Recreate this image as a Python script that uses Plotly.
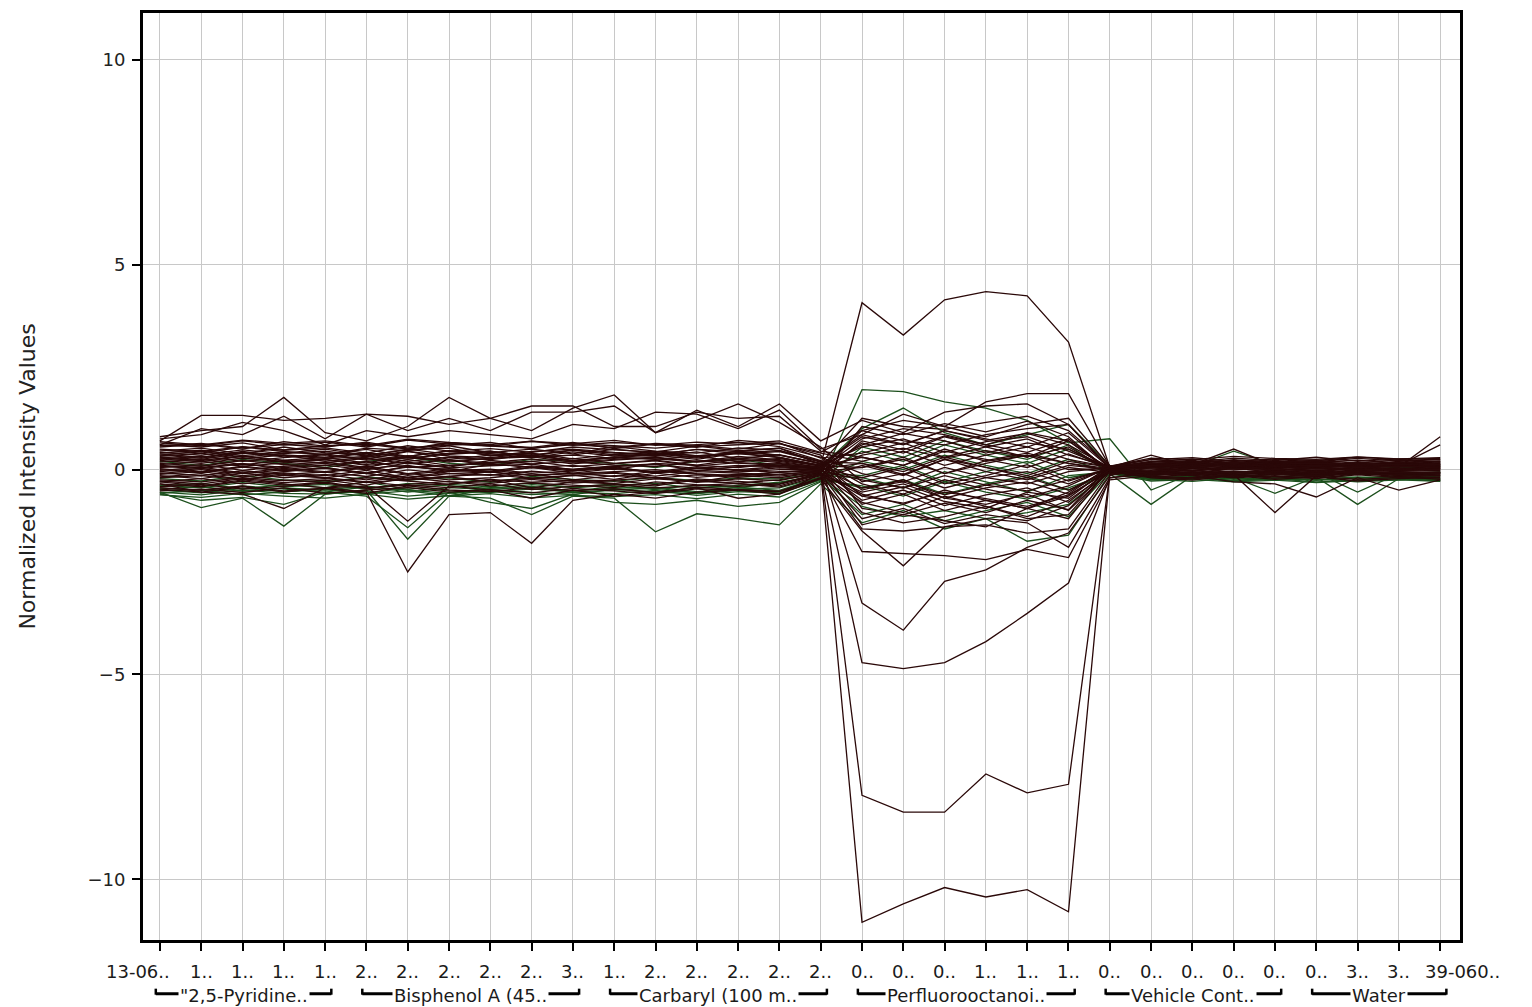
import plotly.graph_objects as go

# ---- categories / tick labels ----
tick_labels = ["13-06..", "1..", "1..", "1..", "1..", "2..", "2..", "2..", "2..", "2..", "3..",
               "1..", "2..", "2..", "2..", "2..", "2..", "0..", "0..", "0..", "1..", "1..", "1..",
               "0..", "0..", "0..", "0..", "0..", "0..", "3..", "3..", "39-060.."]
x_idx = list(range(len(tick_labels)))

group_names = ['"2,5-Pyridine..', 'Bisphenol A (45..', 'Carbaryl (100 m..',
               'Perfluorooctanoi..', 'Vehicle Cont..', 'Water']
group_start = [0, 5, 11, 17, 23, 28]
group_end = [4, 10, 16, 22, 27, 31]

y_ticks = [-10, -5, 0, 5, 10]

# ---- series values (dense band) ----
b01 = [0.45,0.52,0.38,0.55,0.41,0.36,0.48,0.52,0.33,0.44,0.50,0.42,0.37,0.49,0.44,0.52,0.12,0.85,0.62,0.95,0.71,0.88,0.60,0.05,0.12,0.08,0.15,0.10,0.06,0.14,0.09,0.12]
b02 = [-0.35,-0.42,-0.28,-0.38,-0.31,-0.45,-0.36,-0.29,-0.40,-0.33,-0.38,-0.44,-0.30,-0.37,-0.41,-0.35,-0.08,-0.65,-0.82,-0.55,-0.71,-0.90,-0.62,-0.04,-0.10,-0.15,-0.08,-0.12,-0.18,-0.09,-0.14,-0.11]
b03 = [0.22,0.15,0.28,0.19,0.25,0.12,0.30,0.21,0.17,0.26,0.14,0.23,0.29,0.18,0.24,0.20,0.05,-0.45,-0.30,-0.62,-0.38,-0.52,-0.25,0.03,0.06,-0.02,0.05,0.08,0.02,0.04,0.07,0.03]
b04 = [-0.12,-0.05,-0.18,-0.08,-0.15,-0.02,-0.20,-0.10,-0.06,-0.14,-0.09,-0.17,-0.04,-0.11,-0.16,-0.07,-0.02,0.35,0.52,0.28,0.46,0.31,0.55,-0.02,-0.05,0.03,-0.06,-0.03,-0.07,-0.01,-0.04,-0.02]
b05 = [0.60,0.55,0.65,0.48,0.58,0.62,0.50,0.66,0.57,0.52,0.61,0.54,0.64,0.59,0.50,0.63,0.35,-0.95,-1.10,-0.82,-1.05,-0.75,-0.98,0.08,0.15,0.20,0.12,0.18,0.10,0.16,0.13,0.19]
b06 = [-0.52,-0.48,-0.56,-0.45,-0.58,-0.50,-0.44,-0.55,-0.49,-0.57,-0.46,-0.53,-0.59,-0.47,-0.51,-0.54,-0.20,1.05,0.85,1.12,0.92,1.18,0.80,-0.06,-0.18,-0.12,-0.20,-0.15,-0.22,-0.10,-0.17,-0.24]
b07 = [0.05,0.12,-0.02,0.08,0.15,0.03,0.10,-0.05,0.13,0.06,0.01,0.09,0.14,-0.03,0.07,0.11,0.02,0.15,-0.12,0.25,0.05,-0.20,0.10,0.01,-0.02,0.04,0.01,-0.03,0.02,0.00,0.03,-0.01]
b08 = [0.32,0.40,0.26,0.36,0.30,0.42,0.28,0.38,0.45,0.31,0.35,0.27,0.41,0.34,0.39,0.29,0.10,0.55,0.75,0.42,0.68,0.80,0.45,0.04,0.10,0.05,0.12,0.07,0.11,0.08,0.14,0.06]
b09 = [-0.25,-0.30,-0.20,-0.27,-0.22,-0.32,-0.24,-0.18,-0.29,-0.21,-0.28,-0.26,-0.19,-0.31,-0.23,-0.27,-0.06,-1.20,-0.95,-1.32,-1.10,-1.25,-0.88,-0.05,-0.12,-0.08,-0.16,-0.10,-0.14,-0.07,-0.13,-0.09]
b10 = [0.12,0.20,0.08,0.16,0.24,0.10,0.18,0.06,0.22,0.14,0.19,0.11,0.07,0.21,0.15,0.09,0.04,-0.20,0.05,-0.35,-0.15,0.12,-0.28,0.02,0.05,0.09,0.03,0.06,0.04,0.08,0.01,0.05]
b11 = [-0.42,-0.36,-0.48,-0.40,-0.33,-0.46,-0.38,-0.44,-0.35,-0.49,-0.41,-0.37,-0.45,-0.39,-0.34,-0.43,-0.15,0.70,0.48,0.82,0.60,0.42,0.75,-0.03,-0.08,-0.14,-0.05,-0.11,-0.06,-0.12,-0.09,-0.15]
b12 = [0.50,0.44,0.56,0.47,0.53,0.40,0.58,0.45,0.51,0.42,0.55,0.48,0.43,0.57,0.46,0.52,0.22,-0.35,-0.60,-0.25,-0.48,-0.68,-0.40,0.06,0.13,0.17,0.09,0.14,0.20,0.11,0.16,0.12]
b13 = [-0.55,-0.62,-0.50,-0.58,-0.60,-0.52,-0.65,-0.57,-0.53,-0.61,-0.56,-0.59,-0.51,-0.63,-0.54,-0.58,-0.25,-0.40,-0.65,-0.30,-0.55,-0.72,-0.45,-0.08,-0.20,-0.16,-0.24,-0.19,-0.26,-0.21,-0.18,-0.25]
b14 = [0.02,-0.06,0.08,-0.02,0.04,-0.08,0.06,0.01,-0.04,0.09,-0.01,0.05,-0.07,0.03,0.00,0.07,0.01,-0.75,-0.50,-0.88,-0.62,-0.45,-0.80,0.00,-0.04,0.02,-0.01,0.03,-0.03,0.01,-0.02,0.00]
b15 = [0.38,0.30,0.44,0.34,0.27,0.40,0.32,0.46,0.36,0.29,0.43,0.33,0.39,0.28,0.42,0.35,0.15,1.25,1.05,0.98,1.15,1.30,0.95,0.07,0.16,0.11,0.18,0.13,0.09,0.17,0.12,0.15]
b16 = [-0.18,-0.10,-0.24,-0.14,-0.20,-0.08,-0.26,-0.16,-0.12,-0.22,-0.15,-0.09,-0.21,-0.13,-0.19,-0.11,-0.05,0.05,0.30,-0.10,0.22,0.40,0.15,-0.03,-0.07,-0.02,-0.09,-0.05,-0.10,-0.04,-0.08,-0.06]
b17 = [-0.45,-0.52,-0.40,-0.48,-0.55,-0.42,-0.50,-0.58,-0.44,-0.47,-0.53,-0.41,-0.49,-0.56,-0.43,-0.51,-0.18,-0.90,-1.15,-1.00,-1.20,-1.05,-0.85,-0.06,-0.15,-0.22,-0.12,-0.18,-0.14,-0.20,-0.16,-0.22]
b18 = [0.28,0.22,0.34,0.18,0.26,0.32,0.20,0.30,0.24,0.36,0.21,0.29,0.25,0.33,0.19,0.27,0.08,0.30,0.10,0.45,0.25,0.05,0.38,0.03,0.09,0.13,0.07,0.11,0.05,0.10,0.06,0.09]
b19 = [-0.05,0.02,-0.10,-0.01,-0.07,0.04,-0.12,-0.03,0.01,-0.09,-0.04,0.03,-0.08,-0.02,-0.06,0.00,0.00,0.95,0.70,0.60,0.85,1.00,1.10,0.02,0.01,-0.03,0.04,0.00,-0.02,0.03,-0.01,0.02]
b20 = [0.55,0.62,0.50,0.68,0.57,0.64,0.53,0.60,0.66,0.51,0.63,0.58,0.52,0.61,0.67,0.56,0.30,-0.10,-0.30,0.05,-0.20,-0.35,-0.05,0.05,0.18,0.22,0.14,0.20,0.17,0.23,0.15,0.21]
b21 = [-0.30,-0.22,-0.35,-0.26,-0.32,-0.20,-0.28,-0.36,-0.24,-0.31,-0.27,-0.34,-0.23,-0.29,-0.33,-0.25,-0.10,-0.55,-0.35,-0.70,-0.85,-0.60,-1.00,-0.04,-0.11,-0.06,-0.13,-0.08,-0.12,-0.05,-0.10,-0.07]
b22 = [0.18,0.26,0.12,0.22,0.16,0.28,0.14,0.24,0.10,0.20,0.27,0.15,0.23,0.11,0.25,0.17,0.06,0.60,0.88,0.70,0.40,0.65,0.50,0.04,0.07,0.12,0.06,0.09,0.13,0.05,0.11,0.08]
b23 = [-0.38,-0.45,-0.32,-0.42,-0.36,-0.48,-0.34,-0.40,-0.46,-0.37,-0.43,-0.35,-0.47,-0.39,-0.44,-0.33,-0.12,0.45,0.20,0.60,0.35,0.15,0.50,-0.05,-0.13,-0.09,-0.17,-0.12,-0.15,-0.08,-0.14,-0.18]
b24 = [0.42,0.35,0.48,0.39,0.45,0.33,0.50,0.37,0.43,0.34,0.47,0.40,0.36,0.49,0.38,0.44,0.18,-0.65,-0.42,-0.78,-0.95,-0.55,-0.70,0.05,0.11,0.15,0.08,0.13,0.10,0.14,0.12,0.16]
b25 = [-0.08,-0.15,-0.03,-0.12,-0.06,-0.17,-0.01,-0.10,-0.14,-0.04,-0.11,-0.07,-0.16,-0.05,-0.09,-0.13,-0.03,-0.25,-0.45,-0.15,-0.38,-0.20,-0.50,-0.01,-0.06,-0.03,-0.08,-0.04,-0.09,-0.02,-0.05,-0.07]
b26 = [0.65,0.58,0.70,0.60,0.67,0.55,0.72,0.62,0.57,0.69,0.59,0.66,0.61,0.54,0.71,0.63,0.40,0.20,0.45,0.10,0.35,0.55,0.25,0.06,0.14,0.18,0.22,0.16,0.19,0.12,0.20,0.24]
b27 = [-0.48,-0.55,-0.42,-0.52,-0.46,-0.58,-0.40,-0.50,-0.54,-0.44,-0.51,-0.47,-0.56,-0.43,-0.49,-0.53,-0.22,0.10,-0.15,0.25,-0.05,-0.25,0.05,-0.07,-0.16,-0.20,-0.11,-0.17,-0.21,-0.13,-0.19,-0.14]
b28 = [0.08,0.02,0.14,0.05,0.11,-0.01,0.16,0.04,0.09,0.13,0.00,0.07,0.12,0.03,0.10,0.06,0.03,-1.05,-1.30,-1.15,-0.90,-1.20,-1.10,0.01,0.03,0.06,0.02,0.05,0.01,0.04,0.00,0.03]
b29 = [0.25,0.33,0.20,0.29,0.36,0.23,0.31,0.18,0.27,0.34,0.22,0.30,0.26,0.19,0.32,0.24,0.11,0.80,0.60,0.95,0.75,0.55,0.90,0.04,0.08,0.13,0.10,0.06,0.12,0.09,0.07,0.11]
b30 = [-0.22,-0.28,-0.15,-0.25,-0.30,-0.18,-0.26,-0.20,-0.31,-0.17,-0.24,-0.29,-0.19,-0.27,-0.21,-0.23,-0.08,-0.15,0.10,-0.30,-0.05,0.20,-0.20,-0.03,-0.09,-0.13,-0.06,-0.10,-0.07,-0.12,-0.11,-0.08]
b31 = [0.48,0.40,0.55,0.44,0.36,0.52,0.46,0.58,0.41,0.50,0.38,0.56,0.45,0.40,0.53,0.47,0.20,-0.50,-0.25,-0.70,-0.45,-0.30,-0.60,0.08,0.25,0.18,0.28,0.22,0.30,0.20,0.26,0.24]
b32 = [-0.15,-0.22,-0.08,-0.20,-0.12,-0.25,-0.10,-0.18,-0.05,-0.21,-0.14,-0.24,-0.09,-0.19,-0.11,-0.16,-0.06,0.65,0.40,0.80,0.55,0.30,0.70,-0.04,-0.20,-0.26,-0.15,-0.24,-0.18,-0.28,-0.22,-0.19]
b33 = [0.35,0.28,0.42,0.31,0.38,0.25,0.44,0.33,0.29,0.40,0.26,0.37,0.32,0.43,0.27,0.36,0.14,-0.85,-0.60,-1.00,-0.75,-0.95,-0.55,0.05,0.20,0.26,0.16,0.24,0.19,0.27,0.21,0.18]
b34 = [-0.40,-0.33,-0.47,-0.37,-0.44,-0.30,-0.49,-0.36,-0.42,-0.32,-0.45,-0.38,-0.34,-0.46,-0.39,-0.31,-0.14,-0.20,-0.45,-0.05,-0.30,-0.55,-0.15,-0.06,-0.22,-0.17,-0.27,-0.20,-0.25,-0.18,-0.23,-0.28]
b35 = [0.58,0.64,0.52,0.61,0.55,0.67,0.50,0.63,0.59,0.54,0.66,0.51,0.62,0.56,0.60,0.65,0.28,0.40,0.65,0.30,0.55,0.75,0.35,0.07,0.24,0.29,0.20,0.26,0.22,0.30,0.25,0.27]
b36 = [-0.02,0.06,-0.08,0.03,-0.05,0.08,-0.10,0.02,-0.06,0.05,-0.03,0.07,-0.09,0.04,-0.01,-0.07,0.01,0.75,1.00,0.85,0.60,0.90,0.70,0.00,0.05,-0.04,0.08,0.02,-0.06,0.04,-0.02,0.06]
b37 = [0.15,0.08,0.22,0.12,0.18,0.05,0.24,0.10,0.16,0.20,0.07,0.14,0.21,0.09,0.17,0.13,0.05,-1.35,-1.10,-1.25,-1.40,-0.95,-1.20,0.02,0.12,0.16,0.09,0.14,0.11,0.15,0.10,0.13]
b38 = [-0.58,-0.50,-0.62,-0.54,-0.47,-0.60,-0.52,-0.64,-0.49,-0.56,-0.61,-0.48,-0.55,-0.59,-0.51,-0.57,-0.24,0.20,0.00,0.35,0.10,-0.10,0.25,-0.08,-0.25,-0.20,-0.28,-0.23,-0.30,-0.26,-0.21,-0.27]
b39 = [0.68,0.60,0.72,0.64,0.70,0.58,0.74,0.66,0.61,0.69,0.63,0.71,0.59,0.67,0.62,0.70,0.42,0.95,1.20,1.05,0.80,1.10,1.25,0.08,0.28,0.24,0.32,0.27,0.25,0.31,0.26,0.29]
b40 = [-0.28,-0.35,-0.22,-0.32,-0.26,-0.38,-0.20,-0.30,-0.34,-0.24,-0.33,-0.27,-0.37,-0.23,-0.29,-0.36,-0.11,-0.80,-1.05,-0.65,-0.90,-1.15,-0.75,-0.05,-0.18,-0.23,-0.14,-0.21,-0.16,-0.24,-0.19,-0.21]
b41 = [0.26,0.19,0.32,0.23,0.29,0.16,0.34,0.21,0.27,0.31,0.18,0.25,0.30,0.20,0.28,0.22,0.09,0.05,0.25,-0.10,0.15,0.35,0.00,0.03,0.15,0.10,0.19,0.12,0.17,0.13,0.18,0.14]
b42 = [-0.48,-0.42,-0.53,-0.45,-0.50,-0.40,-0.55,-0.44,-0.49,-0.41,-0.52,-0.46,-0.43,-0.54,-0.47,-0.45,-0.18,-1.10,-0.85,-1.25,-1.00,-0.80,-1.15,-0.07,-0.24,-0.29,-0.21,-0.26,-0.23,-0.30,-0.25,-0.22]
b43 = [0.40,0.47,0.34,0.43,0.37,0.49,0.32,0.45,0.39,0.35,0.48,0.36,0.44,0.33,0.41,0.46,0.19,0.15,-0.05,0.30,0.05,-0.15,0.20,0.06,0.20,0.15,0.24,0.18,0.22,0.16,0.23,0.19]
b44 = [0.00,-0.08,0.06,-0.04,0.03,-0.10,0.08,-0.02,-0.06,0.05,-0.09,0.02,-0.05,0.07,-0.03,0.04,0.00,-0.60,-0.85,-0.50,-0.75,-0.95,-0.65,0.00,-0.06,0.05,-0.09,0.03,-0.05,0.07,-0.04,0.02]
b45 = [-0.62,-0.68,-0.58,-0.65,-0.70,-0.60,-0.72,-0.64,-0.59,-0.69,-0.63,-0.66,-0.61,-0.71,-0.60,-0.67,-0.28,0.55,0.30,0.70,0.45,0.25,0.60,-0.10,-0.28,-0.24,-0.30,-0.26,-0.32,-0.27,-0.25,-0.29]
b46 = [-0.50,-0.57,-0.46,-0.54,-0.49,-0.59,-0.44,-0.52,-0.56,-0.47,-0.55,-0.51,-0.45,-0.58,-0.48,-0.53,-0.20,-0.45,-0.25,-0.60,-0.35,-0.15,-0.50,-0.09,-0.24,-0.19,-0.28,-0.22,-0.26,-0.20,-0.23,-0.26]

# ---- series values (outlying profiles) ----
o01 = [0.70,1.32,1.32,1.20,1.25,1.35,1.30,1.10,1.25,1.55,1.55,1.05,1.05,1.40,1.25,1.30,0.45,0.30,0.10,0.50,0.20,0.35,0.15,0.02,0.10,0.05,0.12,0.08,0.04,0.10,0.06,0.80]
o02 = [0.80,0.95,1.05,1.76,0.90,0.70,1.05,1.76,1.25,0.95,1.50,1.82,0.90,1.20,1.60,1.15,0.55,-0.30,-0.10,-0.45,-0.20,-0.05,-0.35,0.05,0.35,0.08,0.15,0.10,0.07,0.12,0.10,0.60]
o03 = [0.60,1.00,0.85,1.30,0.75,1.35,0.95,1.25,0.95,1.40,1.40,1.55,0.90,1.45,1.05,1.60,0.70,1.20,0.90,1.40,1.55,1.60,1.10,0.04,0.08,0.12,0.50,0.09,0.11,0.07,0.13,0.09]
o04 = [0.75,0.85,1.15,0.95,0.60,0.95,0.80,0.95,0.85,0.75,1.10,1.00,1.40,1.35,1.00,1.45,0.50,0.85,1.35,1.05,1.65,1.85,1.85,0.08,0.15,0.10,0.18,0.13,0.16,0.11,0.14,0.12]
o05 = [-0.45,-0.50,-0.40,-0.55,-0.45,-0.55,-2.50,-1.10,-1.05,-1.80,-0.75,-0.60,-0.70,-0.55,-0.50,-0.60,-0.10,-1.45,-1.50,-1.40,-1.35,-1.55,-1.45,-0.05,-0.10,-0.06,-0.12,-1.05,-0.15,-0.08,-0.12,-0.10]
o06 = [-0.55,-0.93,-0.70,-1.38,-0.60,-0.50,-1.70,-0.65,-0.70,-1.10,-0.65,-0.70,-1.52,-1.08,-1.20,-1.35,-0.35,-1.30,-1.00,-1.45,-1.20,-1.75,-1.60,-0.10,-0.85,-0.15,-0.20,-0.58,-0.18,-0.85,-0.22,-0.15]
o07 = [-0.60,-0.75,-0.68,-0.85,-0.55,-0.65,-1.42,-0.55,-0.80,-0.95,-0.60,-0.80,-0.85,-0.75,-0.90,-0.80,-0.30,1.95,1.90,1.65,1.50,1.20,0.65,0.75,-0.50,-0.10,-0.05,-0.12,-0.08,-0.55,-0.10,-0.06]
o08 = [-0.35,-0.55,-0.60,-0.95,-0.45,-0.40,-1.26,-0.40,-0.50,-0.70,-0.50,-0.65,-0.55,-0.45,-0.70,-0.60,-0.22,-1.50,-2.35,-1.40,-1.20,-1.30,-1.90,-0.20,-0.10,-0.15,-0.30,-0.35,-0.67,-0.20,-0.50,-0.25]
p01 = [0.30,0.25,0.40,0.35,0.20,0.30,0.45,0.25,0.35,0.40,0.20,0.30,0.35,0.25,0.40,0.30,0.10,4.07,3.28,4.14,4.34,4.24,3.11,0.05,0.10,0.06,0.12,0.08,0.10,0.05,0.08,0.06]
p02 = [-0.20,-0.15,-0.25,-0.10,-0.20,-0.30,-0.15,-0.25,-0.20,-0.10,-0.25,-0.15,-0.20,-0.30,-0.15,-0.20,-0.05,-11.05,-10.60,-10.20,-10.43,-10.25,-10.79,-0.10,-0.05,-0.08,-0.12,-0.06,-0.10,-0.04,-0.09,-0.07]
p03 = [0.10,0.05,0.15,0.00,0.10,0.20,0.05,0.10,0.15,0.05,0.10,0.00,0.15,0.10,0.05,0.15,0.02,-7.95,-8.36,-8.36,-7.43,-7.89,-7.68,-0.12,-0.06,-0.10,-0.04,-0.08,-0.13,-0.05,-0.09,-0.11]
p04 = [-0.10,0.00,-0.15,-0.05,0.05,-0.10,-0.20,-0.05,0.00,-0.15,-0.10,-0.05,0.00,-0.10,-0.15,-0.05,-0.03,-4.71,-4.86,-4.71,-4.20,-3.51,-2.77,-0.20,-0.08,-0.12,-0.06,-0.10,-0.05,-0.09,-0.07,-0.10]
p05 = [0.35,0.45,0.30,0.40,0.50,0.35,0.25,0.40,0.45,0.30,0.35,0.50,0.40,0.30,0.45,0.35,0.15,-3.26,-3.92,-2.73,-2.45,-1.90,-1.55,-0.15,0.05,-0.02,0.04,0.00,0.03,-0.01,0.02,0.00]
p06 = [-0.30,-0.40,-0.25,-0.35,-0.45,-0.30,-0.40,-0.35,-0.25,-0.45,-0.30,-0.35,-0.40,-0.25,-0.35,-0.40,-0.12,-2.00,-2.05,-2.10,-2.20,-1.95,-2.15,-0.25,-0.15,-0.10,-0.18,-0.12,-0.15,-0.10,-0.13,-0.16]
p07 = [0.20,0.10,0.25,0.15,0.05,0.20,0.30,0.15,0.10,0.25,0.20,0.15,0.05,0.20,0.25,0.10,0.05,1.00,1.50,0.90,0.60,0.85,1.10,0.10,0.05,0.08,0.45,0.12,0.06,0.10,0.04,0.08]

brown_series = [b01, b02, b03, b04, b05, b06, b07, b08, b09, b10, b11, b12, b14, b15, b16,
                b18, b19, b20, b21, b22, b24, b25, b26, b27, b28, b29, b31, b32, b33, b35,
                b36, b37, b39, b40, b41, b43, b44,
                o01, o02, o03, o04, o05, o08, p01, p02, p03, p04, p05, p06]
green_series = [b13, b17, b23, b30, b34, b38, b42, b45, b46, o06, o07, p07]

BROWN = "#2a0808"
GREEN = "#1c4f1c"
FONT = "DejaVu Sans"

fig = go.Figure()
for s in green_series:
    fig.add_trace(go.Scatter(x=x_idx, y=s, mode="lines",
                             line=dict(color=GREEN, width=1.3), hoverinfo="skip", showlegend=False))
for s in brown_series:
    fig.add_trace(go.Scatter(x=x_idx, y=s, mode="lines",
                             line=dict(color=BROWN, width=1.3), hoverinfo="skip", showlegend=False))

# x tick labels (first label right-aligned, last left-aligned as in the original)
y_lab = -0.0335
for i, lab in enumerate(tick_labels):
    if i == 0:
        kw = dict(xanchor="right", xshift=12)
    elif i == len(tick_labels) - 1:
        kw = dict(xanchor="left", xshift=-17)
    else:
        kw = dict(xanchor="center")
    fig.add_annotation(x=i, y=y_lab, xref="x", yref="paper", text=lab, showarrow=False,
                       yanchor="middle", font=dict(family=FONT, size=18, color="#1a1a1a"), **kw)

# group brackets below the tick labels
y_line = -0.058
y_stub = -0.0525
for name, a, b in zip(group_names, group_start, group_end):
    x0, x1 = a - 0.1, b + 0.15
    fig.add_shape(type="line", xref="x", yref="paper", x0=x0, x1=x1, y0=y_line, y1=y_line,
                  line=dict(color="black", width=3))
    fig.add_shape(type="line", xref="x", yref="paper", x0=x0, x1=x0, y0=y_line - 0.001, y1=y_stub,
                  line=dict(color="black", width=2.5))
    fig.add_shape(type="line", xref="x", yref="paper", x0=x1, x1=x1, y0=y_line - 0.001, y1=y_stub,
                  line=dict(color="black", width=2.5))
    fig.add_annotation(x=(x0 + x1) / 2, y=-0.0595, xref="x", yref="paper", text=name,
                       showarrow=False, bgcolor="white", borderpad=1, yanchor="middle",
                       font=dict(family=FONT, size=18, color="#1a1a1a"))

fig.add_annotation(x=-0.088, y=0.5, xref="paper", yref="paper", xanchor="center", yanchor="middle",
                   text="Normalized Intensity Values", textangle=-90, showarrow=False,
                   font=dict(family=FONT, size=22, color="#222222"))

fig.update_layout(
    width=1532, height=1007,
    margin=dict(l=143, r=72, t=10, b=67),
    paper_bgcolor="white", plot_bgcolor="white",
    showlegend=False,
    xaxis=dict(range=[-0.41, 31.48], tickmode="array", tickvals=x_idx, showticklabels=False,
               showgrid=True, gridcolor="#c8c8c8", gridwidth=1, zeroline=False,
               showline=True, linecolor="black", linewidth=3, mirror=True,
               ticks="outside", ticklen=8, tickwidth=2, tickcolor="black"),
    yaxis=dict(range=[-11.48, 11.14], tickmode="array", tickvals=y_ticks,
               ticktext=[str(v).replace("-", "\u2212") for v in y_ticks],
               showgrid=True, gridcolor="#c8c8c8", gridwidth=1, zeroline=False,
               showline=True, linecolor="black", linewidth=3, mirror=True,
               ticks="outside", ticklen=8, tickwidth=2, tickcolor="black",
               ticklabelstandoff=3,
               tickfont=dict(family=FONT, size=18, color="#222222")),
)

fig.write_html("out.html")
